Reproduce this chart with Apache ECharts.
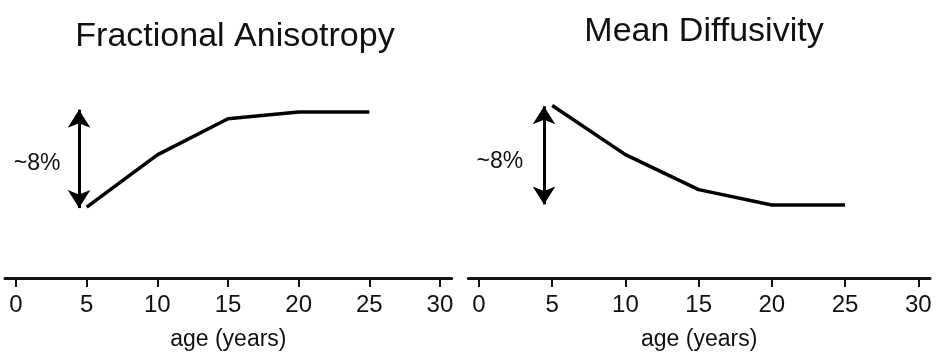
<!DOCTYPE html>
<html>
<head>
<meta charset="utf-8">
<script src="https://cdn.jsdelivr.net/npm/echarts@6/dist/echarts.min.js"></script>
<style>
html,body{margin:0;padding:0;background:#fff;}
#c{width:936px;height:356px;}
</style>
</head>
<body>
<div id="c"></div>
<script>
const ages = [5, 10, 15, 20, 25];
const faValues = [0, 4.42, 7.48, 8.06, 8.06];
const mdValues = [8.17, 4.14, 1.26, 0, 0];
const tickValues = [0, 5, 10, 15, 20, 25, 30];
const titles = ['Fractional Anisotropy', 'Mean Diffusivity'];
const axisName = 'age (years)';
const changeLabel = '~8%';
const faArrow = [4.46, -0.08, 8.25];
const mdArrow = [4.44, 0.05, 8.11];
const faLabelAt = [1.49, 3.67];
const mdLabelAt = [1.43, 3.57];

const FONT = 'Liberation Sans, Arial, sans-serif';
const INK = '#111';

function pairs(xs, ys) { return xs.map((x, i) => [x, ys[i]]); }

function xAxisCfg(idx, min, max) {
  return {
    type: 'value', gridIndex: idx, min: min, max: max,
    name: axisName, nameLocation: 'middle', nameGap: 50,
    nameTextStyle: { fontFamily: FONT, fontSize: 23, color: INK },
    axisLine: { show: true, onZero: false, lineStyle: { color: INK, width: 3 } },
    axisTick: { show: true, customValues: tickValues, length: 9, lineStyle: { color: INK, width: 2 } },
    axisLabel: { show: true, customValues: tickValues, fontFamily: FONT, fontSize: 24, color: INK, margin: 15 },
    splitLine: { show: false }
  };
}
function yAxisCfg(idx) {
  return { type: 'value', gridIndex: idx, min: -6, max: 10, show: false, splitLine: { show: false } };
}
function seriesCfg(idx, vals, arrow, labelAt) {
  return {
    type: 'line', xAxisIndex: idx, yAxisIndex: idx,
    data: pairs(ages, vals), symbol: 'none', silent: true,
    lineStyle: { color: '#000', width: 3.5 },
    markLine: {
      silent: true, animation: false,
      symbol: ['arrow', 'arrow'], symbolSize: [17, 18],
      lineStyle: { color: '#000', width: 3, type: 'solid' },
      label: { show: false },
      data: [[{ coord: [arrow[0], arrow[1]] }, { coord: [arrow[0], arrow[2]] }]]
    },
    markPoint: {
      silent: true, animation: false,
      symbol: 'circle', symbolSize: 1,
      itemStyle: { color: 'rgba(0,0,0,0)' },
      label: { show: true, position: 'inside', formatter: changeLabel, fontFamily: FONT, fontSize: 23, color: INK },
      data: [{ coord: labelAt }]
    }
  };
}

const chart = echarts.init(document.getElementById('c'), null, { renderer: 'canvas' });
chart.setOption({
  animation: false,
  backgroundColor: '#fff',
  title: [
    { text: titles[0], left: 230, top: 15, textAlign: 'center',
      textStyle: { fontFamily: FONT, fontSize: 34, fontWeight: 'normal', color: INK } },
    { text: titles[1], left: 699, top: 10, textAlign: 'center',
      textStyle: { fontFamily: FONT, fontSize: 34, fontWeight: 'normal', color: INK } }
  ],
  grid: [
    { left: 5, width: 446.7, top: 89, height: 192 },
    { left: 468.3, width: 461.7, top: 83.3, height: 198.4 }
  ],
  xAxis: [xAxisCfg(0, -0.78, 30.83), xAxisCfg(1, -0.73, 30.8)],
  yAxis: [yAxisCfg(0), yAxisCfg(1)],
  series: [
    seriesCfg(0, faValues, faArrow, faLabelAt),
    seriesCfg(1, mdValues, mdArrow, mdLabelAt)
  ]
});
</script>
</body>
</html>
